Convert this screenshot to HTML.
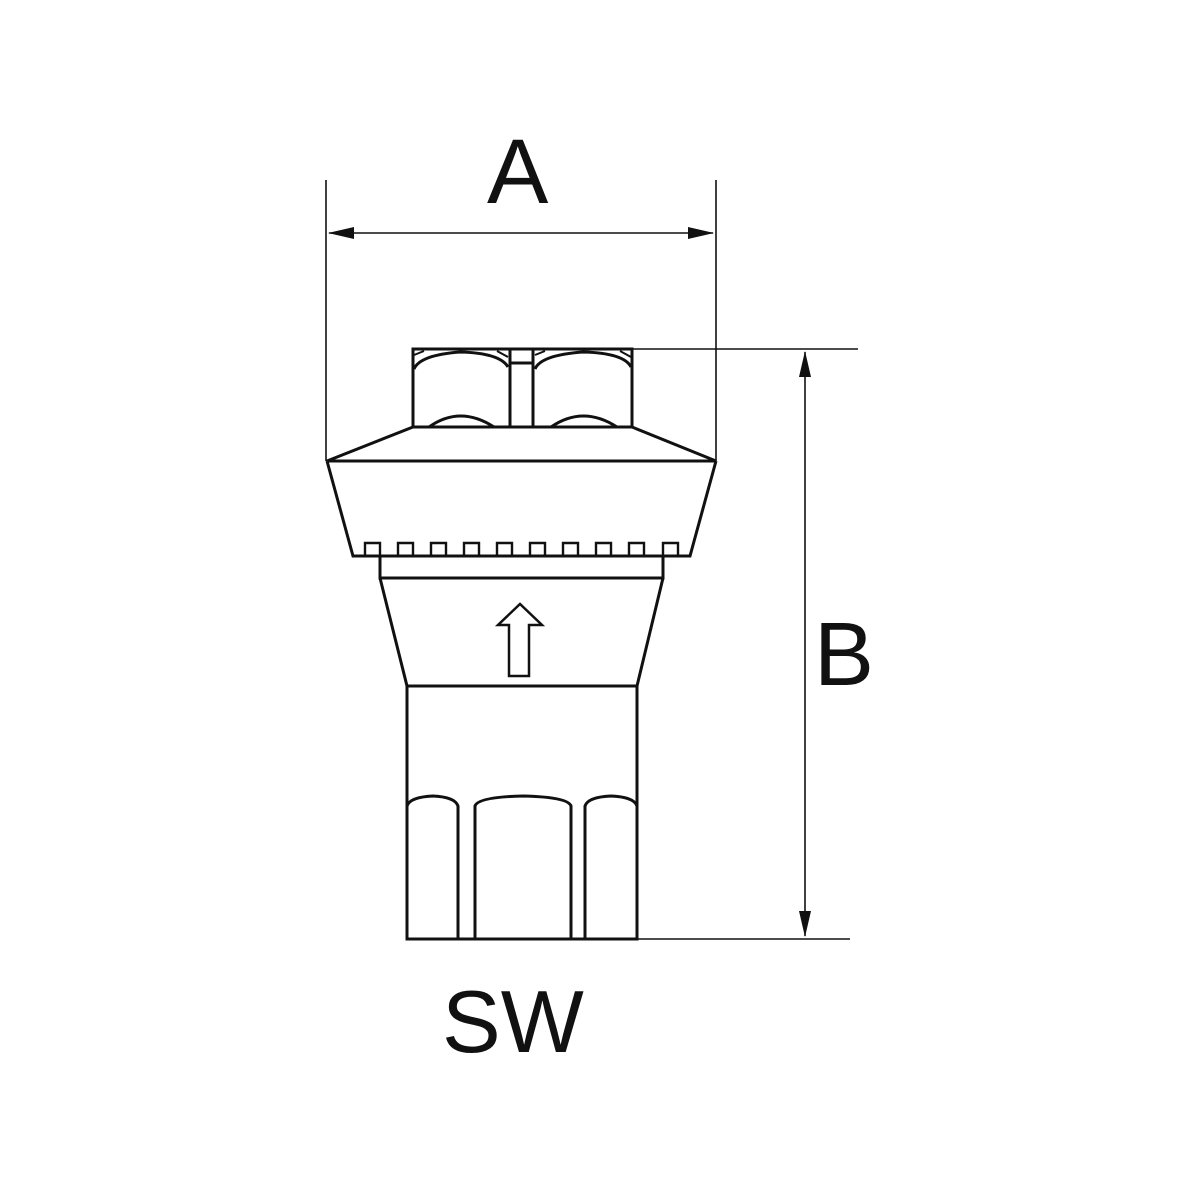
<!DOCTYPE html>
<html><head><style>html,body{margin:0;padding:0;background:#fff}svg{display:block}</style></head><body>
<svg width="1200" height="1200" viewBox="0 0 1200 1200" xmlns="http://www.w3.org/2000/svg">
<defs>
<marker id="ar" markerWidth="26" markerHeight="12" refX="25" refY="6" orient="auto" markerUnits="userSpaceOnUse"><path d="M0,0 L26,6 L0,12 Z" fill="#111"/></marker>
</defs>
<g stroke="#111" fill="none" stroke-width="1.6">
<line x1="326" y1="180" x2="326" y2="461"/>
<line x1="716" y1="180" x2="716" y2="461"/>
<line x1="520" y1="233" x2="329" y2="233" marker-end="url(#ar)"/>
<line x1="520" y1="233" x2="713" y2="233" marker-end="url(#ar)"/>
<line x1="632" y1="349" x2="858" y2="349"/>
<line x1="637" y1="939" x2="850" y2="939"/>
<line x1="805" y1="640" x2="805" y2="352" marker-end="url(#ar)"/>
<line x1="805" y1="640" x2="805" y2="936" marker-end="url(#ar)"/>
</g>
<g stroke="#111" fill="none" stroke-width="3">
<rect x="413" y="349" width="219" height="78"/>
<line x1="510" y1="349" x2="510" y2="427"/>
<line x1="533" y1="349" x2="533" y2="427"/>
<line x1="510" y1="363" x2="533" y2="363"/>
<path d="M414,369 Q420,355 460,352 Q500,353 508,367"/>
<path d="M535,369 Q541,355 583,352 Q624,353 631,367"/>
<path d="M414,355 L424,351 M497,351 L508,357 M535,355 L545,351 M620,351 L631,357" stroke-width="2"/>
<path d="M429,427 Q460,405 494,427"/>
<path d="M551,427 Q583,405 617,427"/>
<path d="M413,427 L327,461 L716,461 L632,427"/>
<path d="M327,461 L353,556 L690,556 L716,461"/>
<path d="M365,556 V543 H380 V556 M398,556 V543 H413 V556 M431,556 V543 H446 V556 M464,556 V543 H479 V556 M497,556 V543 H512 V556 M530,556 V543 H545 V556 M563,556 V543 H578 V556 M596,556 V543 H611 V556 M629,556 V543 H644 V556 M663,556 V543 H678 V556" stroke-width="2.4"/>
<rect x="380" y="556" width="283" height="22"/>
<path d="M380,578 L407,686 L637,686 L663,578"/>
<rect x="407" y="686" width="230" height="253"/>
<path d="M509,676 V625 H498 L520,604 L542,625 H529 V676 Z" stroke-width="2.5"/>
<path d="M407,806 Q410,797 433,796 Q455,797 458,806 V939"/>
<path d="M475,939 V806 Q478,797 523,796 Q568,797 571,806 V939"/>
<path d="M585,939 V806 Q588,797 611,796 Q634,797 637,806"/>
</g>
<g font-family="'Liberation Sans', sans-serif" fill="#111">
<text x="487" y="203" font-size="92">A</text>
<text x="814" y="685" font-size="90">B</text>
<text x="442" y="1052" font-size="88">SW</text>
</g>
</svg>
</body></html>
